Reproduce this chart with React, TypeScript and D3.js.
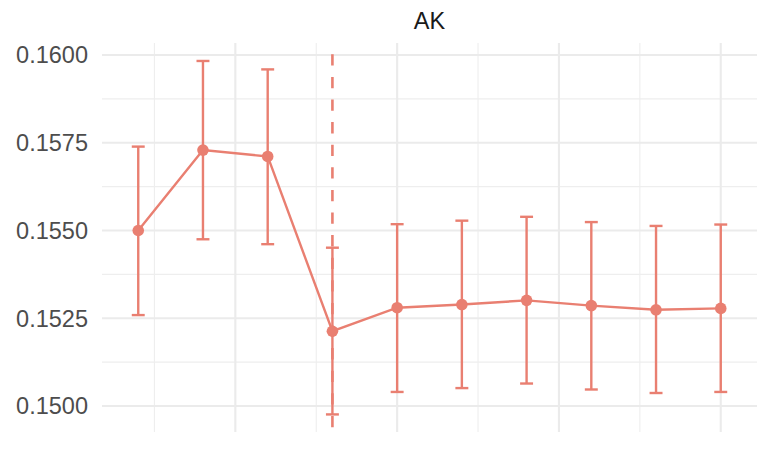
import React from "react";
import * as d3 from "d3";

const title = "AK";
const xs = [1, 2, 3, 4, 5, 6, 7, 8, 9, 10];
const estimate = [0.155, 0.15729, 0.15711, 0.15213, 0.1528, 0.15289, 0.15301, 0.15286, 0.15274, 0.15278];
const upper = [0.15739, 0.15983, 0.15959, 0.15451, 0.15518, 0.15528, 0.15539, 0.15524, 0.15513, 0.15517];
const lower = [0.15259, 0.15475, 0.15461, 0.14976, 0.1504, 0.15051, 0.15064, 0.15047, 0.15037, 0.1504];
const yTicks = [0.15, 0.1525, 0.155, 0.1575, 0.16];
const yMinor = [0.15125, 0.15375, 0.15625, 0.15875];
const xMajor = [2.5, 5, 7.5, 10];
const xMinor = [1.25, 3.75, 6.25, 8.75];
const vlineX = 4;

const W = 764;
const H = 452;
const left = 102;
const right = 757;
const top = 43;
const bottom = 432;
const color = "#E97F71";

export default function App() {
  const x = d3.scaleLinear().domain([0.44, 10.56]).range([left, right]);
  const y = d3.scaleLinear().domain([0.149259, 0.160342]).range([bottom, top]);
  const fmt = d3.format(".4f");
  const line = d3
    .line<number>()
    .x((_, i) => x(xs[i]))
    .y((d) => y(d));
  const cap = 0.1;
  return (
    <svg
      width={W}
      height={H}
      style={{ position: "absolute", left: 0, top: 0, background: "#fff" }}
      fontFamily="'Liberation Sans', Arial, sans-serif"
    >
      <rect x={0} y={0} width={W} height={H} fill="#fff" />
      {yMinor.map((t) => (
        <line key={"ym" + t} x1={left} x2={right} y1={y(t)} y2={y(t)} stroke="#EEEEEE" strokeWidth={1.1} />
      ))}
      {xMinor.map((t) => (
        <line key={"xm" + t} x1={x(t)} x2={x(t)} y1={top} y2={bottom} stroke="#EEEEEE" strokeWidth={1.1} />
      ))}
      {yTicks.map((t) => (
        <line key={"yM" + t} x1={left} x2={right} y1={y(t)} y2={y(t)} stroke="#EBEBEB" strokeWidth={2.1} />
      ))}
      {xMajor.map((t) => (
        <line key={"xM" + t} x1={x(t)} x2={x(t)} y1={top} y2={bottom} stroke="#EBEBEB" strokeWidth={2.1} />
      ))}
      {yTicks.map((t) => (
        <text
          key={"yl" + t}
          x={88}
          y={y(t)}
          dy="0.36em"
          textAnchor="end"
          fontSize={23.5}
          fill="#4D4D4D"
        >
          {fmt(t)}
        </text>
      ))}
      <text x={(left + right) / 2} y={29} textAnchor="middle" fontSize={23.5} fill="#1A1A1A">
        {title}
      </text>
      <line
        x1={x(vlineX)}
        x2={x(vlineX)}
        y1={top}
        y2={bottom}
        stroke={color}
        strokeWidth={2.6}
        strokeDasharray="11.3 11.3"
        strokeDashoffset={11.3}
      />
      {xs.map((xv, i) => (
        <g key={"eb" + i} stroke={color} strokeWidth={2.4} fill="none">
          <line x1={x(xv)} x2={x(xv)} y1={y(lower[i])} y2={y(upper[i])} />
          <line x1={x(xv - cap)} x2={x(xv + cap)} y1={y(upper[i])} y2={y(upper[i])} />
          <line x1={x(xv - cap)} x2={x(xv + cap)} y1={y(lower[i])} y2={y(lower[i])} />
        </g>
      ))}
      <path d={line(estimate) || ""} stroke={color} strokeWidth={2.4} fill="none" />
      {xs.map((xv, i) => (
        <circle key={"pt" + i} cx={x(xv)} cy={y(estimate[i])} r={5.8} fill={color} />
      ))}
    </svg>
  );
}
